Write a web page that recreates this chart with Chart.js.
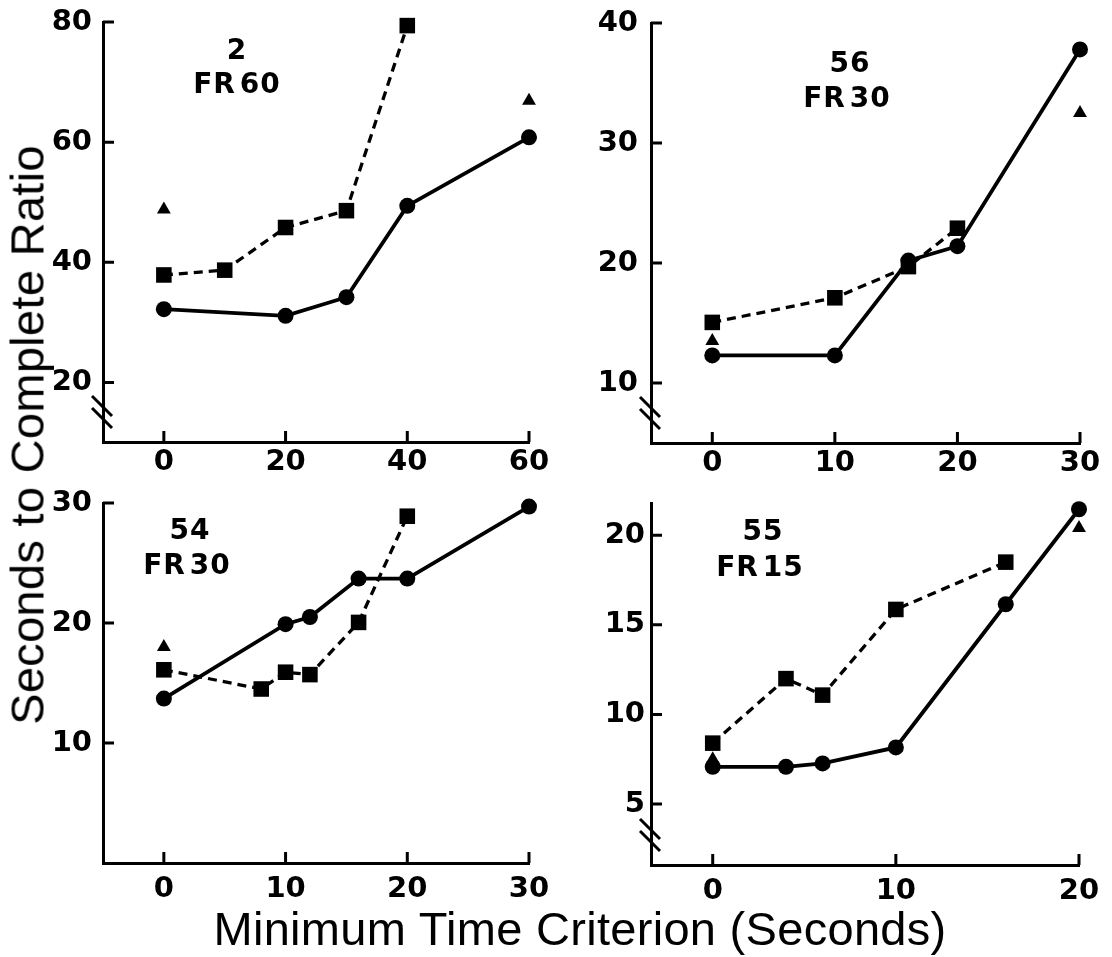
<!DOCTYPE html>
<html>
<head>
<meta charset="utf-8">
<script src="https://cdn.jsdelivr.net/npm/chart.js@4.4.1/dist/chart.umd.min.js"></script>
<style>
  html, body { margin: 0; padding: 0; background: #fff; }
  #wrap { position: relative; width: 1112px; height: 957px; background: #fff; overflow: hidden; }
  canvas { position: absolute; }
  .lab { position: absolute; transform: translate(-50%, -50%); font-family: "DejaVu Sans", sans-serif; font-weight: bold; font-size: 28px; line-height: 1; color: #000; white-space: nowrap; letter-spacing: 1px; }
  .title { position: absolute; font-family: "Liberation Sans", Arial, sans-serif; font-size: 47px; line-height: 1; color: #000; white-space: nowrap; letter-spacing: 0.3px; }
</style>
</head>
<body>
<div id="wrap">
  <canvas id="c1" width="560" height="490" style="left:0px;top:0px"></canvas>
  <canvas id="c2" width="556" height="490" style="left:556px;top:0px"></canvas>
  <canvas id="c3" width="560" height="440" style="left:0px;top:490px"></canvas>
  <canvas id="c4" width="556" height="440" style="left:556px;top:490px"></canvas>

  <div class="lab" style="left:237px;top:50px">2</div>
  <div class="lab" style="left:237px;top:84px">FR<span style="margin-left:4px">60</span></div>
  <div class="lab" style="left:850px;top:63px">56</div>
  <div class="lab" style="left:847px;top:98px">FR<span style="margin-left:4px">30</span></div>
  <div class="lab" style="left:190px;top:530px">54</div>
  <div class="lab" style="left:187px;top:565px">FR<span style="margin-left:4px">30</span></div>
  <div class="lab" style="left:763px;top:531px">55</div>
  <div class="lab" style="left:760px;top:567px">FR<span style="margin-left:4px">15</span></div>

  <div class="title" style="left:580px;top:928px;transform:translate(-50%,-50%)">Minimum Time Criterion (Seconds)</div>
  <div class="title" style="left:27px;top:435px;transform:translate(-50%,-50%) rotate(-90deg)">Seconds to Complete Ratio</div>
</div>
<script>
// ---------- Data ----------
// Panel 1: subject 2, FR60
const p1CircX = [0, 20, 30, 40, 60];
const p1CircY = [32.2, 31.1, 34.2, 49.4, 60.8];
const p1SqX = [0, 10, 20, 30, 40];
const p1SqY = [37.9, 38.7, 45.8, 48.6, 79.4];
const p1TriX = [0, 60];
const p1TriY = [48.8, 66.9];
const p1XTicks = [0, 20, 40, 60];
const p1YTicks = [20, 40, 60, 80];

// Panel 2: subject 56, FR30
const p2CircX = [0, 10, 16, 20, 30];
const p2CircY = [12.3, 12.3, 20.2, 21.4, 37.8];
const p2SqX = [0, 10, 16, 20];
const p2SqY = [15.05, 17.1, 19.7, 22.9];
const p2TriX = [0, 30];
const p2TriY = [13.5, 32.5];
const p2XTicks = [0, 10, 20, 30];
const p2YTicks = [10, 20, 30, 40];

// Panel 3: subject 54, FR30
const p3CircX = [0, 10, 12, 16, 20, 30];
const p3CircY = [13.7, 19.9, 20.5, 23.7, 23.7, 29.7];
const p3SqX = [0, 8, 10, 12, 16, 20];
const p3SqY = [16.1, 14.5, 15.9, 15.7, 20.05, 28.9];
const p3TriX = [0, 30];
const p3TriY = [18.0, 31.2];
const p3XTicks = [0, 10, 20, 30];
const p3YTicks = [10, 20, 30];

// Panel 4: subject 55, FR15
const p4CircX = [0, 4, 6, 10, 16, 20];
const p4CircY = [7.08, 7.08, 7.27, 8.16, 16.15, 21.45];
const p4SqX = [0, 4, 6, 10, 16];
const p4SqY = [8.4, 12.0, 11.08, 15.86, 18.5];
const p4TriX = [0, 20];
const p4TriY = [7.5, 20.4];
const p4XTicks = [0, 10, 20];
const p4YTicks = [5, 10, 15, 20];

// ---------- helpers ----------
const pts = (xs, ys) => xs.map((x, i) => ({ x: x, y: ys[i] }));

const axisDecor = {
  id: 'axisDecor',
  afterDraw(chart, args, opts) {
    const ctx = chart.ctx;
    const xs = chart.scales.x, ys = chart.scales.y;
    const a = chart.chartArea;
    ctx.save();
    ctx.strokeStyle = '#000';
    ctx.lineWidth = 3;
    ctx.lineCap = 'butt';
    ctx.beginPath();
    xs.ticks.forEach(t => {
      const px = xs.getPixelForValue(t.value);
      ctx.moveTo(px, a.bottom);
      ctx.lineTo(px, a.bottom - 11);
    });
    ys.ticks.forEach(t => {
      const py = ys.getPixelForValue(t.value);
      ctx.moveTo(a.left, py);
      ctx.lineTo(a.left + 11, py);
    });
    ctx.stroke();
    if (opts.breakMark) {
      const cy = a.bottom - 30, cx = a.left - 1;
      ctx.lineWidth = 3;
      ctx.beginPath();
      [-6, 6].forEach(off => {
        ctx.moveTo(cx - 10, cy + off - 10);
        ctx.lineTo(cx + 10, cy + off + 10);
      });
      ctx.stroke();
    }
    ctx.restore();
  }
};

function makePanel(id, cfg) {
  const tickFont = { family: 'DejaVu Sans', weight: 'bold', size: 29 };
  new Chart(document.getElementById(id), {
    type: 'scatter',
    data: {
      datasets: [
        {
          data: pts(cfg.circX, cfg.circY), showLine: true,
          borderColor: '#000', backgroundColor: '#000', borderWidth: 3.8,
          pointStyle: 'circle', pointRadius: 8, pointBorderWidth: 0, clip: false
        },
        {
          data: pts(cfg.sqX, cfg.sqY), showLine: true, borderDash: [9, 6],
          borderColor: '#000', backgroundColor: '#000', borderWidth: 3.3,
          pointStyle: 'rect', pointRadius: 11, pointBorderWidth: 0, clip: false
        },
        {
          data: pts(cfg.triX, cfg.triY), showLine: false,
          borderColor: '#000', backgroundColor: '#000',
          pointStyle: 'triangle', pointRadius: 8, pointBorderWidth: 0, clip: false
        }
      ]
    },
    options: {
      responsive: false,
      animation: false,
      events: [],
      layout: { padding: { left: 0, top: cfg.padTop, right: cfg.padRight, bottom: 0 } },
      plugins: { legend: { display: false }, tooltip: { enabled: false }, axisDecor: { breakMark: cfg.breakMark } },
      scales: {
        x: {
          type: 'linear', min: cfg.xMin, max: cfg.xMax,
          grid: { display: false, drawTicks: false },
          border: { display: true, color: '#000', width: 3 },
          ticks: { color: '#000', font: tickFont, padding: cfg.xPad, autoSkip: false, maxRotation: 0 },
          afterBuildTicks: s => { s.ticks = cfg.xTicks.map(v => ({ value: v })); },
          afterFit: s => { s.height = cfg.xh; s.paddingLeft = 0; s.paddingRight = 0; }
        },
        y: {
          type: 'linear', min: cfg.yMin, max: cfg.yMax,
          grid: { display: false, drawTicks: false },
          border: { display: true, color: '#000', width: 3 },
          ticks: { color: '#000', font: tickFont, padding: cfg.yPad, autoSkip: false },
          afterBuildTicks: s => { s.ticks = cfg.yTicks.map(v => ({ value: v })); },
          afterFit: s => { s.width = cfg.yw; s.paddingTop = 0; s.paddingBottom = 0; }
        }
      }
    },
    plugins: [axisDecor]
  });
}

makePanel('c1', {
  circX: p1CircX, circY: p1CircY, sqX: p1SqX, sqY: p1SqY, triX: p1TriX, triY: p1TriY,
  xTicks: p1XTicks, yTicks: p1YTicks, xMin: -10, xMax: 60, yMin: 10.1, yMax: 80,
  yw: 103, xh: 48, padTop: 22, padRight: 31, xPad: 3, yPad: 11, breakMark: true
});
makePanel('c2', {
  circX: p2CircX, circY: p2CircY, sqX: p2SqX, sqY: p2SqY, triX: p2TriX, triY: p2TriY,
  xTicks: p2XTicks, yTicks: p2YTicks, xMin: -5, xMax: 30, yMin: 5, yMax: 40,
  yw: 95, xh: 47, padTop: 23, padRight: 32, xPad: 3, yPad: 13, breakMark: true
});
makePanel('c3', {
  circX: p3CircX, circY: p3CircY, sqX: p3SqX, sqY: p3SqY, triX: p3TriX, triY: p3TriY,
  xTicks: p3XTicks, yTicks: p3YTicks, xMin: -5, xMax: 30, yMin: 0, yMax: 30,
  yw: 103, xh: 67, padTop: 13, padRight: 31, xPad: 9, yPad: 11, breakMark: false
});
makePanel('c4', {
  circX: p4CircX, circY: p4CircY, sqX: p4SqX, sqY: p4SqY, triX: p4TriX, triY: p4TriY,
  xTicks: p4XTicks, yTicks: p4YTicks, xMin: -3.37, xMax: 20, yMin: 1.6, yMax: 21.8,
  yw: 95, xh: 65, padTop: 13, padRight: 33, xPad: 9, yPad: 6, breakMark: true
});
</script>
</body>
</html>
